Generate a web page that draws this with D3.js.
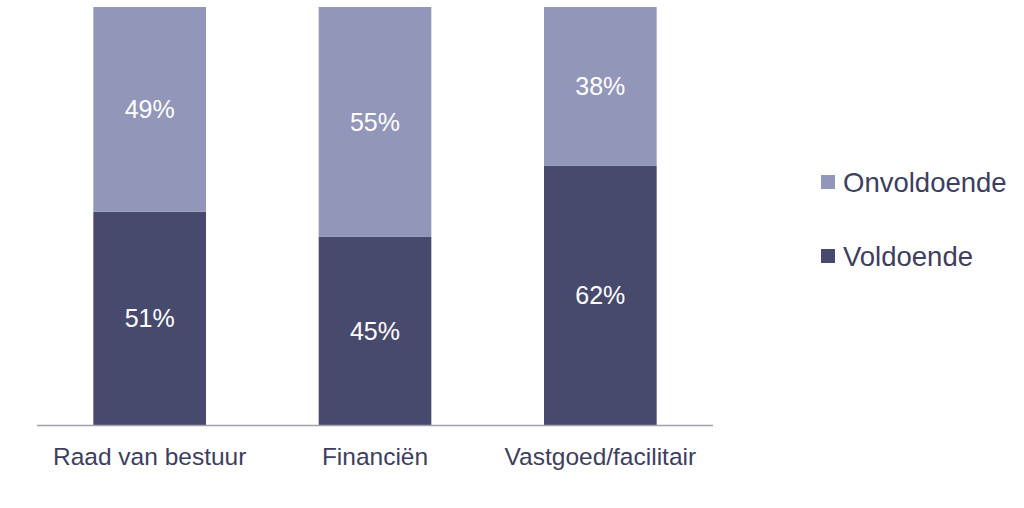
<!DOCTYPE html>
<html><head><meta charset="utf-8">
<script src="https://cdn.jsdelivr.net/npm/d3@7"></script>
<style>body{margin:0;background:#fff;} svg{display:block;}</style>
</head><body>
<svg id="c" width="1024" height="508"></svg>
<script>
const categories = ["Raad van bestuur", "Financiën", "Vastgoed/facilitair"];
const voldoende = [51, 45, 62];
const onvoldoende = [49, 55, 38];
const seriesNames = ["Voldoende", "Onvoldoende"];
const colors = {"Voldoende": "#484a6d", "Onvoldoende": "#9296b8"};

const svg = d3.select("#c");
const font = "Arial, 'Liberation Sans', sans-serif";
const x = d3.scaleBand().domain(categories).range([37, 713]).paddingInner(0.5).paddingOuter(0.25);
const y = d3.scaleLinear().domain([0, 100]).range([425, 7]);

const data = categories.map((c, i) => ({cat: c, Voldoende: voldoende[i], Onvoldoende: onvoldoende[i]}));
const stack = d3.stack().keys(seriesNames)(data);

const g = svg.append("g");
stack.forEach(layer => {
  g.selectAll(null).data(layer).enter().append("rect")
    .attr("x", d => x(d.data.cat))
    .attr("width", x.bandwidth())
    .attr("y", d => y(d[1]))
    .attr("height", d => y(d[0]) - y(d[1]))
    .attr("fill", colors[layer.key]);
  g.selectAll(null).data(layer).enter().append("text")
    .attr("x", d => x(d.data.cat) + x.bandwidth() / 2)
    .attr("y", d => (y(d[0]) + y(d[1])) / 2)
    .attr("dy", "0.36em")
    .attr("text-anchor", "middle")
    .attr("fill", "#fff")
    .style("font-family", font).style("font-size", "25px")
    .text(d => (d[1] - d[0]) + "%");
});

// axis
const axis = d3.axisBottom(x).tickSize(0).tickPadding(23);
const ax = svg.append("g").attr("transform", "translate(0,425)").call(axis);
ax.select(".domain").attr("stroke", "#a0a0aa").attr("stroke-width", 1.5).attr("d", "M37,0.5H713");
ax.selectAll("text").attr("fill", "#3e3e5e").style("font-family", font).style("font-size", "24.5px");

// legend
const legendItems = ["Onvoldoende", "Voldoende"];
const lg = svg.append("g");
legendItems.forEach((k, i) => {
  const cy = 182 + i * 74;
  lg.append("rect").attr("x", 821).attr("y", cy - 7).attr("width", 14).attr("height", 14).attr("fill", colors[k]);
  lg.append("text").attr("x", 843).attr("y", cy).attr("dy", "0.36em")
    .attr("fill", "#3e3e5e").style("font-family", font).style("font-size", "27.5px").text(k);
});
</script>
</body></html>
